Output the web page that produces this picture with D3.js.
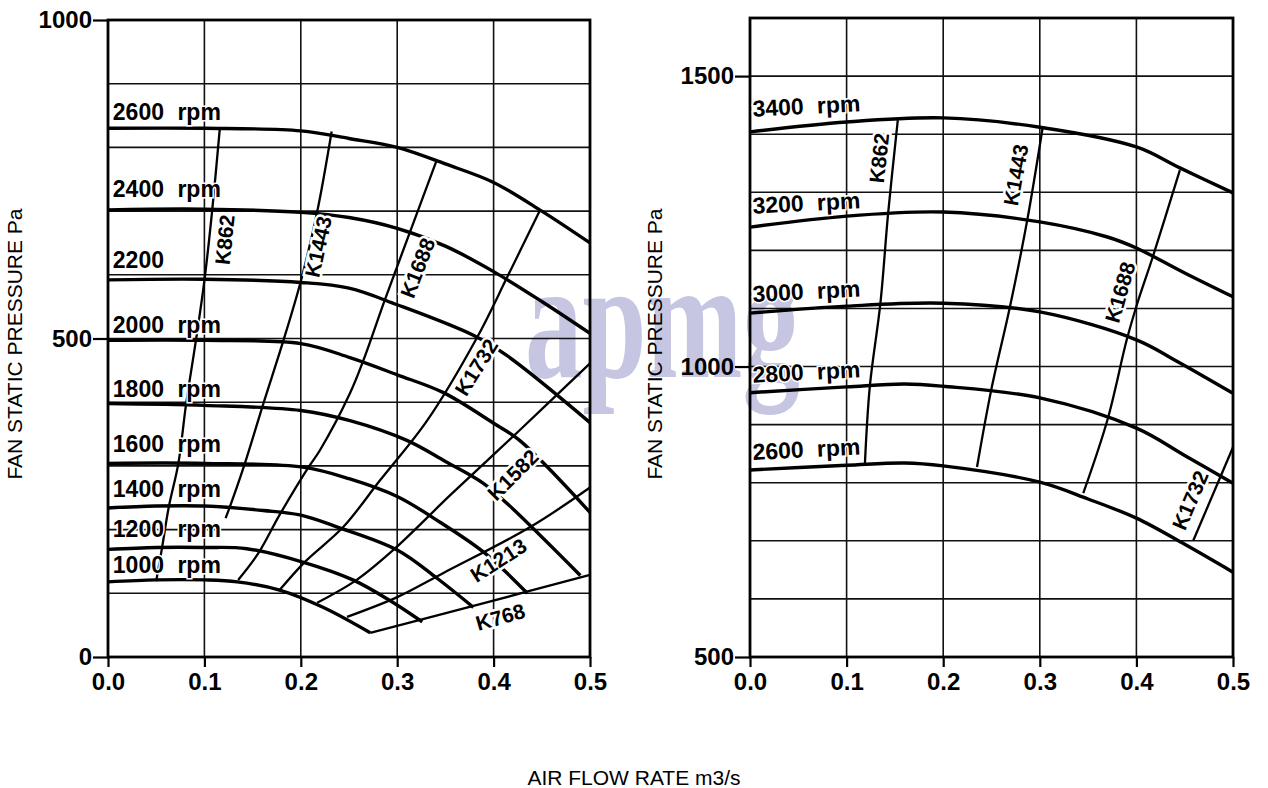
<!DOCTYPE html>
<html>
<head>
<meta charset="utf-8">
<script src="https://cdn.jsdelivr.net/npm/d3@7/dist/d3.min.js"></script>
<style>
  body { margin: 0; background: #fff; }
  text { font-family: "Liberation Sans", Arial, sans-serif; }
</style>
</head>
<body>
<svg id="chart" width="1268" height="788"></svg>
<script>
// shared flow axis, m3/s
var flowTicks = [0, 0.1, 0.2, 0.3, 0.4, 0.5];
var leftPressureTicks = [0, 500, 1000];
var rightPressureTicks = [500, 1000, 1500];

// left chart: fan speed curves, points are [flow, pressure Pa]
var leftSpeedLabels = ["1000 rpm", "1200 rpm", "1400 rpm", "1600 rpm", "1800 rpm", "2000 rpm", "2200", "2400 rpm", "2600 rpm"];
var leftSpeedCurves = [
    [[0, 118], [0.05, 121], [0.1, 121], [0.134, 118], [0.178, 105], [0.223, 78], [0.272, 38]],
    [[0, 169], [0.05, 172], [0.1, 172], [0.144, 170], [0.202, 149], [0.254, 121], [0.292, 89], [0.326, 55]],
    [[0, 234], [0.05, 237], [0.1, 237], [0.161, 230], [0.199, 223], [0.238, 204], [0.3, 168], [0.341, 124], [0.379, 78]],
    [[0, 304], [0.1, 304], [0.202, 298], [0.25, 280], [0.3, 252], [0.344, 212], [0.391, 163], [0.435, 100]],
    [[0, 398], [0.1, 395], [0.2, 387], [0.251, 371], [0.31, 340], [0.35, 307], [0.389, 273], [0.414, 241], [0.49, 128]],
    [[0, 497], [0.1, 497], [0.2, 492], [0.251, 470], [0.3, 443], [0.348, 415], [0.4, 367], [0.427, 340], [0.5, 227]],
    [[0, 592], [0.1, 593], [0.2, 588], [0.25, 579], [0.3, 553], [0.379, 505], [0.414, 473], [0.5, 368]],
    [[0, 702], [0.1, 703], [0.2, 698], [0.25, 690], [0.3, 673], [0.35, 645], [0.4, 605], [0.45, 558], [0.5, 508]],
    [[0, 830], [0.1, 830], [0.2, 826], [0.25, 814], [0.3, 800], [0.35, 774], [0.4, 745], [0.45, 700], [0.5, 650]]
];

// left chart: K lines
var leftKNames = ["K862", "K1443", "K1688", "K1732", "K1582", "K1213", "K768"];
var leftKLines = [
    [[0.050, 119], [0.056, 171], [0.063, 235], [0.073, 304], [0.081, 397], [0.091, 495], [0.100, 591], [0.108, 700], [0.116, 830]],
    [[0.122, 218], [0.126, 234], [0.142, 304], [0.161, 397], [0.182, 497], [0.200, 590], [0.217, 699], [0.232, 825]],
    [[0.135, 121], [0.156, 163], [0.178, 223], [0.208, 298], [0.220, 325], [0.251, 414], [0.265, 466], [0.287, 560], [0.314, 670], [0.341, 780]],
    [[0.178, 105], [0.204, 149], [0.244, 204], [0.282, 277], [0.331, 371], [0.383, 502], [0.414, 596], [0.448, 701]],
    [[0.217, 85], [0.258, 121], [0.296, 168], [0.355, 254], [0.427, 356], [0.5, 461]],
    [[0.248, 63], [0.3, 94], [0.348, 132], [0.438, 204], [0.5, 266]],
    [[0.272, 38], [0.386, 83], [0.5, 129]]
];

// right chart
var rightSpeedLabels = ["2600 rpm", "2800 rpm", "3000 rpm", "3200 rpm", "3400 rpm"];
var rightSpeedCurves = [
    [[0, 822], [0.1, 830], [0.16, 834], [0.2, 829], [0.3, 801], [0.35, 772], [0.4, 739], [0.45, 694], [0.5, 646]],
    [[0, 955], [0.1, 965], [0.16, 970], [0.2, 966], [0.3, 946], [0.4, 894], [0.45, 847], [0.5, 799]],
    [[0, 1092], [0.1, 1104], [0.2, 1109], [0.3, 1094], [0.4, 1046], [0.44, 1011], [0.5, 954]],
    [[0, 1240], [0.1, 1259], [0.2, 1266], [0.3, 1249], [0.37, 1223], [0.4, 1204], [0.45, 1161], [0.5, 1120]],
    [[0, 1404], [0.1, 1421], [0.2, 1428], [0.3, 1412], [0.4, 1378], [0.445, 1342], [0.5, 1299]]
];
var rightKNames = ["K862", "K1443", "K1688", "K1732"];
var rightKLines = [
    [[0.119, 834], [0.124, 965], [0.135, 1109], [0.143, 1264], [0.153, 1424]],
    [[0.235, 827], [0.250, 962], [0.269, 1102], [0.287, 1252], [0.303, 1412]],
    [[0.345, 782], [0.370, 908], [0.390, 1046], [0.401, 1109], [0.417, 1189], [0.445, 1338]],
    [[0.459, 701], [0.5, 861]]
];

// label placement (data units): [x, y] for speed labels (start, baseline); [x, y, angle] for K labels (centre)
var leftSpeedLabelAt = [[0.005, 132], [0.005, 188], [0.005, 251], [0.005, 322], [0.005, 408], [0.005, 509], [0.005, 611], [0.005, 722], [0.005, 843]];
var leftKLabelAt = [[0.121, 655, -84], [0.218, 644, -78], [0.321, 611, -69], [0.382, 455, -58], [0.420, 286, -45], [0.405, 152, -33], [0.407, 63, -16]];
var rightSpeedLabelAt = [[0.003, 839], [0.003, 972], [0.003, 1111], [0.003, 1263], [0.003, 1430]];
var rightKLabelAt = [[0.1335, 1359, -84], [0.275, 1330, -80], [0.383, 1128, -74], [0.4555, 770, -67]];

var svg = d3.select("#chart");

svg.append("rect").attr("width", 1268).attr("height", 788).attr("fill", "#fff");

// watermark sits under everything
svg.append("text")
    .attr("x", 525).attr("y", 377)
    .attr("textLength", 275).attr("lengthAdjust", "spacingAndGlyphs")
    .style("font-family", "'Liberation Serif', 'DejaVu Serif', serif")
    .style("font-weight", "bold")
    .style("font-size", "172px")
    .attr("fill", "#c6c6e2")
    .text("apmg");

var panels = [
    { left: 108, right: 590, top: 20, bottom: 657, domain: [0, 1000], yTicks: leftPressureTicks,
      speeds: leftSpeedCurves, speedLabels: leftSpeedLabels, speedAt: leftSpeedLabelAt,
      kLines: leftKLines, kNames: leftKNames, kAt: leftKLabelAt, titleX: 22, speedTilt: 0 },
    { left: 750, right: 1233, top: 18, bottom: 657, domain: [500, 1600], yTicks: rightPressureTicks,
      speeds: rightSpeedCurves, speedLabels: rightSpeedLabels, speedAt: rightSpeedLabelAt,
      kLines: rightKLines, kNames: rightKNames, kAt: rightKLabelAt, titleX: 662, speedTilt: -3 }
];

panels.forEach(drawPanel);

svg.append("text")
    .attr("x", 634).attr("y", 785)
    .attr("text-anchor", "middle")
    .style("font-size", "21px")
    .text("AIR FLOW RATE m3/s");

function drawPanel(p) {
    var x = d3.scaleLinear().domain([0, 0.5]).range([p.left, p.right]);
    var y = d3.scaleLinear().domain(p.domain).range([p.bottom, p.top]);
    var g = svg.append("g");

    var grid = g.append("g").attr("stroke", "#111").attr("stroke-width", 1.6);
    grid.selectAll(".h").data(d3.range(p.domain[0], p.domain[1] + 1, 100)).enter().append("line")
        .attr("x1", p.left).attr("x2", p.right)
        .attr("y1", function (d) { return y(d); }).attr("y2", function (d) { return y(d); });
    grid.selectAll(".v").data(flowTicks).enter().append("line")
        .attr("y1", p.top).attr("y2", p.bottom)
        .attr("x1", function (d) { return x(d); }).attr("x2", function (d) { return x(d); });

    g.append("rect")
        .attr("x", p.left).attr("y", p.top)
        .attr("width", p.right - p.left).attr("height", p.bottom - p.top)
        .attr("fill", "none").attr("stroke", "#000").attr("stroke-width", 2.8);

    var line = d3.line()
        .x(function (d) { return x(d[0]); })
        .y(function (d) { return y(d[1]); })
        .curve(d3.curveCatmullRom.alpha(0.5));

    g.append("g").selectAll("path").data(p.kLines).enter().append("path")
        .attr("d", line).attr("fill", "none").attr("stroke", "#000").attr("stroke-width", 2.3);

    g.append("g").selectAll("path").data(p.speeds).enter().append("path")
        .attr("d", line).attr("fill", "none").attr("stroke", "#000").attr("stroke-width", 3.4);

    // speed labels, white halo breaks the grid where text sits
    g.append("g").selectAll("text").data(p.speedLabels).enter().append("text")
        .attr("transform", function (d, i) {
            return "translate(" + x(p.speedAt[i][0]) + "," + y(p.speedAt[i][1]) + ") rotate(" + p.speedTilt + ")";
        })
        .style("font-size", "23px").style("font-weight", "bold").style("word-spacing", "7px")
        .attr("stroke", "#fff").attr("stroke-width", 3).attr("paint-order", "stroke")
        .attr("fill", "#000")
        .text(function (d) { return d; });

    g.append("g").selectAll("text").data(p.kNames).enter().append("text")
        .attr("transform", function (d, i) {
            var a = p.kAt[i];
            return "translate(" + x(a[0]) + "," + y(a[1]) + ") rotate(" + a[2] + ")";
        })
        .attr("text-anchor", "middle").attr("dy", "0.36em")
        .style("font-size", "21px").style("font-weight", "bold")
        .attr("stroke", "#fff").attr("stroke-width", 5).attr("paint-order", "stroke")
        .attr("fill", "#000")
        .text(function (d) { return d; });

    var xAxis = g.append("g")
        .attr("transform", "translate(0," + p.bottom + ")")
        .call(d3.axisBottom(x).tickValues(flowTicks).tickFormat(d3.format(".1f")).tickSize(10).tickPadding(6));
    var yAxis = g.append("g")
        .attr("transform", "translate(" + p.left + ",0)")
        .call(d3.axisLeft(y).tickValues(p.yTicks).tickFormat(d3.format("d")).tickSize(15).tickPadding(1));

    [xAxis, yAxis].forEach(function (a) {
        a.select(".domain").remove();
        a.selectAll("line").attr("stroke", "#000").attr("stroke-width", 2.2);
        a.selectAll("text")
            .style("font-family", "'Liberation Sans', Arial, sans-serif")
            .style("font-size", "24px").style("font-weight", "bold").attr("fill", "#000");
    });

    svg.append("text")
        .attr("transform", "translate(" + p.titleX + ",344) rotate(-90)")
        .attr("text-anchor", "middle")
        .style("font-size", "21px")
        .text("FAN STATIC PRESSURE Pa");
}
</script>
</body>
</html>
